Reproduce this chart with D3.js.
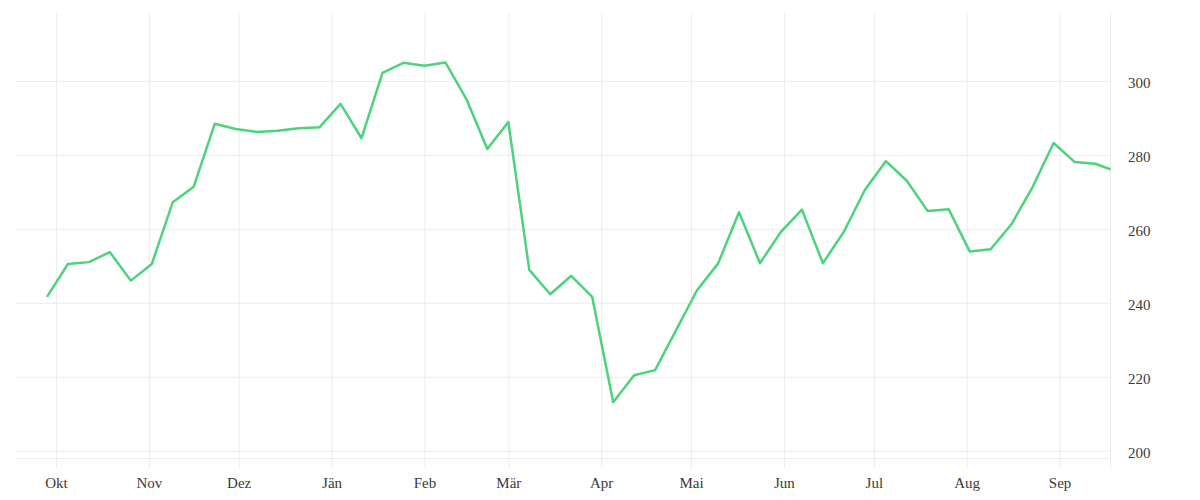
<!DOCTYPE html>
<html>
<head>
<meta charset="utf-8">
<script src="https://cdn.jsdelivr.net/npm/d3@7"></script>
<style>
  html, body { margin: 0; padding: 0; background: #fff; }
  svg { display: block; }
  .axis text { font-family: "Liberation Serif", "Times New Roman", serif; font-size: 15px; fill: #3a3a3a; }
  .axis line { stroke: #ececec; stroke-width: 1; }
  .axis path.domain { display: none; }
</style>
</head>
<body>
<svg id="chart" width="1200" height="500"></svg>
<script>
// ---- data ----
const dates = [
  "2022-09-28","2022-10-05","2022-10-12","2022-10-19","2022-10-26",
  "2022-11-02","2022-11-09","2022-11-16","2022-11-23","2022-11-30",
  "2022-12-07","2022-12-14","2022-12-21","2022-12-28","2023-01-04",
  "2023-01-11","2023-01-18","2023-01-25","2023-02-01","2023-02-08",
  "2023-02-15","2023-02-22","2023-03-01","2023-03-08","2023-03-15",
  "2023-03-22","2023-03-29","2023-04-05","2023-04-12","2023-04-19",
  "2023-04-26","2023-05-03","2023-05-10","2023-05-17","2023-05-24",
  "2023-05-31","2023-06-07","2023-06-14","2023-06-21","2023-06-28",
  "2023-07-05","2023-07-12","2023-07-19","2023-07-26","2023-08-02",
  "2023-08-09","2023-08-16","2023-08-23","2023-08-30","2023-09-06",
  "2023-09-13","2023-09-18"
];
const values = [
  241.6, 250.5, 251.0, 253.7, 246.0,
  250.5, 267.2, 271.4, 288.4, 287.0,
  286.2, 286.5, 287.2, 287.5, 293.8,
  284.5, 302.2, 304.9, 304.1, 305.0,
  295.1, 281.6, 288.9, 248.9, 242.3,
  247.3, 241.6, 213.1, 220.4, 221.8,
  232.6, 243.4, 250.6, 264.5, 250.7,
  259.2, 265.2, 250.7, 259.2, 270.5,
  278.3, 273.0, 264.8, 265.3, 253.9,
  254.5, 261.3, 271.3, 283.2, 278.1,
  277.6, 276.1
];
const monthTicks = [
  "2022-10-01","2022-11-01","2022-12-01","2023-01-01","2023-02-01","2023-03-01",
  "2023-04-01","2023-05-01","2023-06-01","2023-07-01","2023-08-01","2023-09-01"
];
const monthLabels = ["Okt","Nov","Dez","Jän","Feb","Mär","Apr","Mai","Jun","Jul","Aug","Sep"];
const yTicks = [200, 220, 240, 260, 280, 300];
const xDomain = ["2022-09-17", "2023-09-18"];
const yDomain = [197.9, 318.5];

(function () {
  // ---- layout ----
  const plotLeft = 15, plotRight = 1110.5, plotTop = 12.5, plotBottom = 458.5, tickBottom = 468;
  const parse = d3.timeParse("%Y-%m-%d");
  const svg = d3.select("#chart");

  const x = d3.scaleTime().domain(xDomain.map(parse)).range([14, plotRight]);
  const y = d3.scaleLinear().domain(yDomain).range([plotBottom, plotTop]);

  // vertical grid + month labels
  const xAxis = d3.axisBottom(x)
    .tickValues(monthTicks.map(parse))
    .tickFormat((d, i) => monthLabels[i])
    .tickSize(-(tickBottom - plotTop))
    .tickPadding(9);
  svg.append("g").attr("class", "axis x")
    .attr("transform", `translate(0,${tickBottom})`)
    .call(xAxis);

  // horizontal grid + value labels on the right
  const yAxis = d3.axisRight(y)
    .tickValues(yTicks)
    .tickFormat(d3.format("d"))
    .tickSize(-(plotRight - plotLeft))
    .tickPadding(17.5);
  const gy = svg.append("g").attr("class", "axis y")
    .attr("transform", `translate(${plotRight},0)`)
    .call(yAxis);
  gy.selectAll("text").attr("dy", "0.42em");

  // frame lines: bottom and right
  svg.append("line")
    .attr("x1", plotLeft).attr("x2", plotRight)
    .attr("y1", plotBottom).attr("y2", plotBottom)
    .attr("stroke", "#ececec");
  svg.append("line")
    .attr("x1", plotRight).attr("x2", plotRight)
    .attr("y1", plotTop).attr("y2", tickBottom)
    .attr("stroke", "#ececec");

  // line
  const data = dates.map((d, i) => ({ date: parse(d), value: values[i] }));
  const line = d3.line().x(d => x(d.date)).y(d => y(d.value));
  svg.append("path")
    .datum(data)
    .attr("fill", "none")
    .attr("stroke", "#4cd37b")
    .attr("stroke-width", 2.5)
    .attr("stroke-linejoin", "round")
    .attr("d", line);
})();
</script>
</body>
</html>
